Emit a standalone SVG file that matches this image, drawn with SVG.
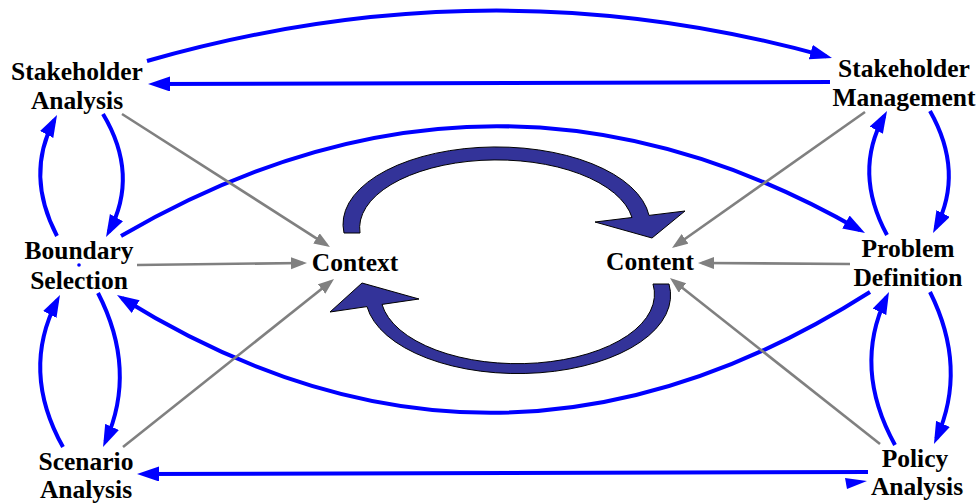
<svg xmlns="http://www.w3.org/2000/svg" width="979" height="503" viewBox="0 0 979 503">
<style>
  text { font-family: "Liberation Serif", "Times New Roman", serif; font-weight: bold; font-size: 25.5px; fill: #000; text-anchor: middle; }
  .blue { fill: none; stroke: #0000ff; stroke-width: 4; marker-end: url(#ab); }
  .gray { fill: none; stroke: #808080; stroke-width: 2.6; marker-end: url(#ag); }
  .cyc { fill: #333399; stroke: #000; stroke-width: 1; stroke-linejoin: miter; }
</style>
<defs>
  <marker id="ab" markerUnits="userSpaceOnUse" markerWidth="24" markerHeight="16" refX="16" refY="7.5" orient="auto">
    <path d="M0,0 L22,7.5 L0,15 z" fill="#0000ff"/>
  </marker>
  <marker id="ag" markerUnits="userSpaceOnUse" markerWidth="18" markerHeight="13" refX="12" refY="6" orient="auto">
    <path d="M0,0 L16,6 L0,12 z" fill="#808080"/>
  </marker>
</defs>
<rect width="979" height="503" fill="#fff"/>
<g id="connectors">
  <path class="blue" d="M147,61 Q490,-37.5 826.2,56.4"/>
  <path class="blue" d="M830,82 L154,84"/>
  <path class="blue" d="M121,236 Q493,19.5 859.8,230"/>
  <path class="blue" d="M870,292 Q495,530.5 122.1,298.2"/>
  <path class="blue" d="M57,236 Q25,175 54.2,120.3"/>
  <path class="blue" d="M103,114 Q139.5,175 108.9,231.7"/>
  <path class="blue" d="M63,447 Q20.5,371 57.2,300.3"/>
  <path class="blue" d="M98,293 Q137.5,370 105.5,441.5"/>
  <path class="blue" d="M887,235 Q853,172 884.1,116.2"/>
  <path class="blue" d="M930,111 Q964.5,172 935.8,227.7"/>
  <path class="blue" d="M895,445 Q852.5,368 886.4,297.4"/>
  <path class="blue" d="M930,292 Q968,368 936.4,438.5"/>
  <path class="blue" d="M868,472 L143,474"/>
  <polygon points="845,478 867,481 847,489" fill="#0000ff"/>
  <path class="gray" d="M122,114 L326.6,244.8"/>
  <path class="gray" d="M137,265 L303,263"/>
  <path class="gray" d="M123,447 L330.9,281.5"/>
  <path class="gray" d="M865,112 L675.3,245.7"/>
  <path class="gray" d="M850,264 L702,263"/>
  <path class="gray" d="M880,444 L673.1,280.5"/>
</g>
<g id="cycle">
  <path class="cyc" d="M344,233 A153,77 0 0 1 649,215.4 L685,211 L652,238 L595,222 L632,217.5 A137,68 0 0 0 360,233 Z"/>
  <path class="cyc" d="M669,284 A152,78 0 0 1 367,306.6 L330,312 L362,283 L419,299 L382,304.4 A136,69 0 0 0 653,284 Z"/>
</g>
<g id="stakeholder-analysis">
  <text x="77" y="80">Stakeholder</text>
  <text x="77" y="109">Analysis</text>
</g>
<g id="stakeholder-management">
  <text x="904" y="77">Stakeholder</text>
  <text x="904" y="106">Management</text>
</g>
<g id="boundary-selection">
  <text x="79" y="259">Boundary</text>
  <text x="79" y="289">Selection</text>
  <circle cx="79" cy="265" r="1.8" fill="#0000ff"/>
</g>
<g id="scenario-analysis">
  <text x="86" y="470">Scenario</text>
  <text x="86" y="498">Analysis</text>
</g>
<g id="problem-definition">
  <text x="908" y="257">Problem</text>
  <text x="908" y="286">Definition</text>
</g>
<g id="policy-analysis">
  <text x="915" y="467">Policy</text>
  <text x="917" y="495">Analysis</text>
</g>
<g id="context">
  <text x="355" y="271">Context</text>
</g>
<g id="content">
  <text x="650" y="270">Content</text>
</g>
</svg>
